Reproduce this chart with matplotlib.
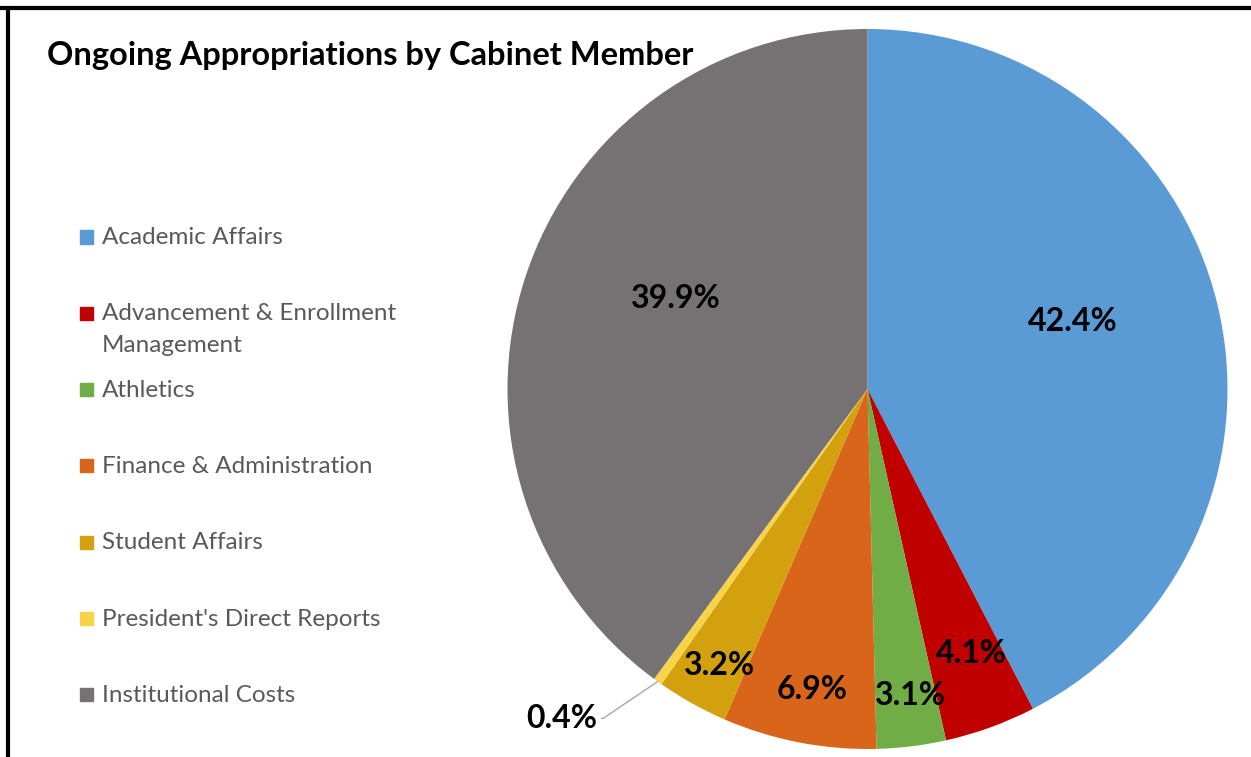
import matplotlib.pyplot as plt
import numpy as np
from matplotlib.lines import Line2D
from matplotlib.patches import Rectangle

plt.rcParams['font.family'] = ['Lato', 'DejaVu Sans']

categories = [
    'Academic Affairs',
    'Advancement & Enrollment\nManagement',
    'Athletics',
    'Finance & Administration',
    'Student Affairs',
    "President's Direct Reports",
    'Institutional Costs',
]
shares = [42.4, 4.1, 3.1, 6.9, 3.2, 0.4, 39.9]
colors = ['#5B9BD5', '#C00000', '#70AD47', '#D9651A', '#D3A10E', '#F7D348', '#767172']
# label placement: radius fraction and angular nudge (deg); None = outside with leader
label_r = [0.6, 0.79, 0.86, 0.85, 0.87, None, 0.59]
label_da = [4.5, 1.5, 1, 0.5, 1, 0, -7]

W, H = 1251, 757
fig = plt.figure(figsize=(W / 100, H / 100), dpi=100)

# pie centred at (867.5, 389) px with a 360 px radius
cx, cy, R = 867.5, 389, 360
ax = fig.add_axes([(cx - R) / W, (H - cy - R) / H, 2 * R / W, 2 * R / H])
wedges, _ = ax.pie(shares, colors=colors, startangle=90, counterclock=False,
                   wedgeprops=dict(linewidth=0))
ax.set_xlim(-1, 1)
ax.set_ylim(-1, 1)
ax.set_aspect('equal')
ax.axis('off')

for w, val, r, da in zip(wedges, shares, label_r, label_da):
    ang = np.deg2rad((w.theta1 + w.theta2) / 2 + da)
    txt = f'{val:.1f}%'
    if r is None:
        ex, ey = np.cos(ang), np.sin(ang)
        ax.annotate(txt, xy=(ex, ey), xytext=(-0.75, -0.915),
                    ha='right', va='center', fontsize=23, fontweight='bold',
                    color='black', annotation_clip=False,
                    arrowprops=dict(arrowstyle='-', color='#A6A6A6', lw=1,
                                    shrinkA=1, shrinkB=0,
                                    connectionstyle='angle,angleA=0,angleB=34,rad=0'))
    else:
        ax.text(r * np.cos(ang), r * np.sin(ang), txt, ha='center', va='center',
                fontsize=23, fontweight='bold', color='black')

fig.text(47 / W, 1 - 55 / H, 'Ongoing Appropriations by Cabinet Member',
         ha='left', va='center', fontsize=23.5, fontweight='bold', color='black')

# legend on the left
y0, step = 237, 76.3
for i, (lab, col) in enumerate(zip(categories, colors)):
    y = y0 + step * i
    fig.patches.append(Rectangle((80 / W, 1 - (y + 6.5) / H), 13 / W, 13 / H,
                                 transform=fig.transFigure, color=col))
    fig.text(102 / W, 1 - (y - 10) / H, lab, ha='left', va='top',
             fontsize=17.5, color='#595959', linespacing=1.6)

# frame lines on top and left
fig.add_artist(Line2D([0, 1], [1 - 8 / H, 1 - 8 / H], transform=fig.transFigure,
                      color='black', lw=3))
fig.add_artist(Line2D([8 / W, 8 / W], [0, 1 - 8 / H], transform=fig.transFigure,
                      color='black', lw=3))

fig.savefig('out.png', dpi=100)
